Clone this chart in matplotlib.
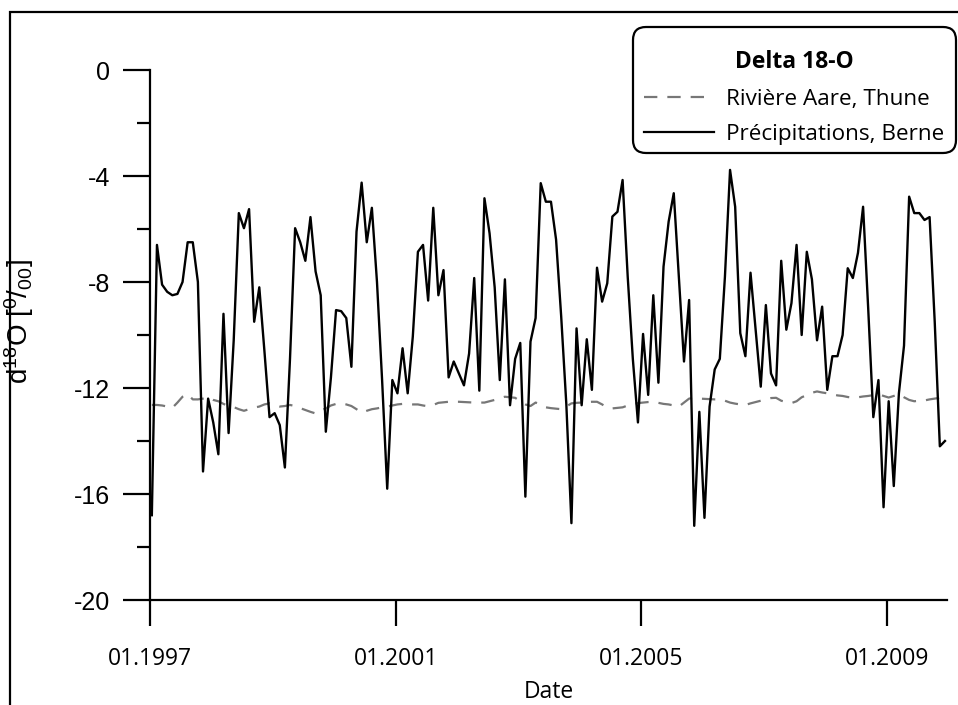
import matplotlib
matplotlib.use("Agg")
import matplotlib.pyplot as plt
from matplotlib.patches import Rectangle, FancyBboxPatch
from matplotlib.transforms import IdentityTransform
from matplotlib.lines import Line2D
from matplotlib.ticker import MultipleLocator
import numpy as np

# ---- data (monthly, Jan 1997 - Dec 2009) ----
start_year = 1997
precip_berne = [
    -16.8, -6.6, -8.1, -8.37, -8.5, -8.45, -8.0, -6.5, -6.5, -8.0, -15.15, -12.4,
    -13.3, -14.5, -9.2, -13.7, -10.2, -5.4, -5.97, -5.25, -9.5, -8.2, -10.6, -13.1,
    -12.95, -13.4, -15.0, -10.9, -5.97, -6.5, -7.2, -5.55, -7.6, -8.5, -13.65, -11.6,
    -9.06, -9.1, -9.36, -11.2, -6.1, -4.25, -6.5, -5.2, -8.0, -11.7, -15.8, -11.7,
    -12.2, -10.5, -12.2, -10.06, -6.86, -6.6, -8.7, -5.2, -8.5, -7.55, -11.6, -11.0,
    -11.45, -11.9, -10.7, -7.85, -12.1, -4.84, -6.16, -8.2, -11.7, -7.9, -12.65, -10.9,
    -10.3, -16.1, -10.25, -9.36, -4.27, -4.97, -4.97, -6.4, -9.3, -12.6, -17.1, -9.75,
    -12.65, -10.16, -12.07, -7.46, -8.74, -8.05, -5.53, -5.35, -4.15, -7.8, -10.9, -13.3,
    -9.96, -12.26, -8.5, -11.8, -7.42, -5.72, -4.65, -7.8, -11.0, -8.68, -17.2, -12.9,
    -16.9, -12.7, -11.3, -10.9, -7.8, -3.77, -5.16, -9.93, -10.8, -7.65, -9.8, -11.95,
    -8.87, -11.45, -11.9, -7.2, -9.8, -8.8, -6.6, -10.0, -6.86, -7.9, -10.2, -8.93,
    -12.07, -10.8, -10.8, -10.0, -7.48, -7.85, -6.9, -5.16, -9.0, -13.1, -11.7, -16.5,
    -12.5, -15.7, -12.2, -10.4, -4.78, -5.4, -5.4, -5.66, -5.55, -9.5, -14.2, -14.0,
]
aare_thune = [
    -12.64, -12.64, -12.66, -12.70, -12.75, -12.55, -12.33, -12.23, -12.43, -12.43, -12.40, -12.35,
    -12.45, -12.50, -12.60, -12.68, -12.72, -12.80, -12.86, -12.80, -12.74, -12.70, -12.62, -12.58,
    -12.64, -12.70, -12.68, -12.64, -12.68, -12.76, -12.83, -12.90, -12.96, -12.85, -12.77, -12.66,
    -12.60, -12.58, -12.62, -12.68, -12.80, -12.93, -12.86, -12.80, -12.77, -12.73, -12.70, -12.66,
    -12.62, -12.60, -12.60, -12.62, -12.62, -12.66, -12.69, -12.64, -12.56, -12.54, -12.52, -12.52,
    -12.52, -12.53, -12.54, -12.55, -12.55, -12.55, -12.50, -12.45, -12.38, -12.33, -12.35, -12.37,
    -12.50, -12.62, -12.68, -12.55, -12.62, -12.73, -12.76, -12.78, -12.80, -12.70, -12.58, -12.56,
    -12.55, -12.53, -12.52, -12.52, -12.62, -12.74, -12.77, -12.75, -12.73, -12.66, -12.60, -12.57,
    -12.55, -12.53, -12.52, -12.56, -12.60, -12.62, -12.66, -12.70, -12.55, -12.40, -12.37, -12.40,
    -12.41, -12.42, -12.43, -12.43, -12.48, -12.55, -12.59, -12.62, -12.64, -12.58, -12.53, -12.48,
    -12.42, -12.38, -12.37, -12.48, -12.53, -12.57, -12.50, -12.35, -12.27, -12.18, -12.13, -12.17,
    -12.20, -12.24, -12.28, -12.30, -12.34, -12.37, -12.35, -12.32, -12.30, -12.27, -12.23, -12.30,
    -12.36, -12.30, -12.23, -12.35, -12.45, -12.50, -12.48, -12.47, -12.43, -12.40, -12.37, -12.55,
]
xtick_years = [1997, 2001, 2005, 2009]
xtick_labels = ["01.1997", "01.2001", "01.2005", "01.2009"]
ytick_values = [-20, -16, -12, -8, -4, 0]
ytick_labels = ["-20", "-16", "-12", "-8", "-4", "0"]
legend_title = "Delta 18-O"
label_aare = "Rivière Aare, Thune"
label_precip = "Précipitations, Berne"
xlabel = "Date"
ylabel = r"d$^{18}$O [$^{0}$/$_{00}$]"

t = start_year + np.arange(len(precip_berne)) / 12.0 + 0.03

# ---- figure ----
plt.rcParams["mathtext.fontset"] = "custom"
plt.rcParams["mathtext.rm"] = "Liberation Sans"
plt.rcParams["mathtext.it"] = "Liberation Sans"

W, H = 958, 705
fig = plt.figure(figsize=(W / 100, H / 100), dpi=100)
fig.patch.set_facecolor("white")

# outer frame
fig.add_artist(Rectangle((10 / W, -0.1), 1.2, 1.1 - 12 / H, transform=fig.transFigure,
                         fill=False, edgecolor="black", linewidth=1.6))

x0, x1 = 150, 947
y0, y1 = 70, 600
ax = fig.add_axes([x0 / W, 1 - y1 / H, (x1 - x0) / W, (y1 - y0) / H])
ax.set_facecolor("none")

DASH = (6, 4.5)
ax.plot(t, aare_thune, color="#777777", linewidth=1.6, dashes=DASH, label=label_aare)
ax.plot(t, precip_berne, color="black", linewidth=1.7, label=label_precip)

ax.set_xlim(1997.0, 2009.98)
ax.set_ylim(-20, 0)

for s in ["top", "right"]:
    ax.spines[s].set_visible(False)
for s in ["left", "bottom"]:
    ax.spines[s].set_linewidth(1.6)

ax.set_xticks(xtick_years)
ax.set_xticklabels(xtick_labels, fontfamily="Open Sans", fontsize=16.5)
ax.set_yticks(ytick_values)
ax.set_yticklabels(ytick_labels, fontfamily="Liberation Sans", fontsize=18)
ax.yaxis.set_minor_locator(MultipleLocator(2))
ax.tick_params(axis="y", which="major", direction="out", length=19.5, width=1.6, pad=9)
ax.tick_params(axis="y", which="minor", direction="out", length=9.5, width=1.6)
ax.tick_params(axis="x", which="major", direction="out", length=19, width=1.6, pad=15)

ax.set_xlabel(xlabel, fontfamily="Open Sans", fontsize=16.5, labelpad=6)
fig.text(19 / W, 1 - 322 / H, ylabel, rotation=90, ha="center", va="center",
         fontsize=20, fontfamily="Liberation Sans")

# legend box (rounded frame, pixel coordinates)
bx0, by0, bx1, by1 = 633, 27, 956, 153
box = FancyBboxPatch((bx0, H - by1), bx1 - bx0, by1 - by0,
                     boxstyle="round,pad=0,rounding_size=13",
                     transform=IdentityTransform(), facecolor="white",
                     edgecolor="black", linewidth=1.6, zorder=4, clip_on=False)
ax.add_artist(box)

handles = [Line2D([], [], color="#777777", linewidth=1.6, dashes=DASH),
           Line2D([], [], color="black", linewidth=1.6)]
leg = ax.legend(handles, [label_aare, label_precip], title=legend_title,
                loc="upper center", bbox_to_anchor=(794 / W, 1 - 50 / H),
                bbox_transform=fig.transFigure,
                prop={"family": "Open Sans", "size": 16.2},
                title_fontproperties={"family": "Open Sans", "size": 16.5, "weight": "bold"},
                frameon=False, handlelength=3.1, handletextpad=0.55, borderpad=0,
                labelspacing=0.65, borderaxespad=0)
leg.set_zorder(6)

fig.savefig("out.png", dpi=100)
